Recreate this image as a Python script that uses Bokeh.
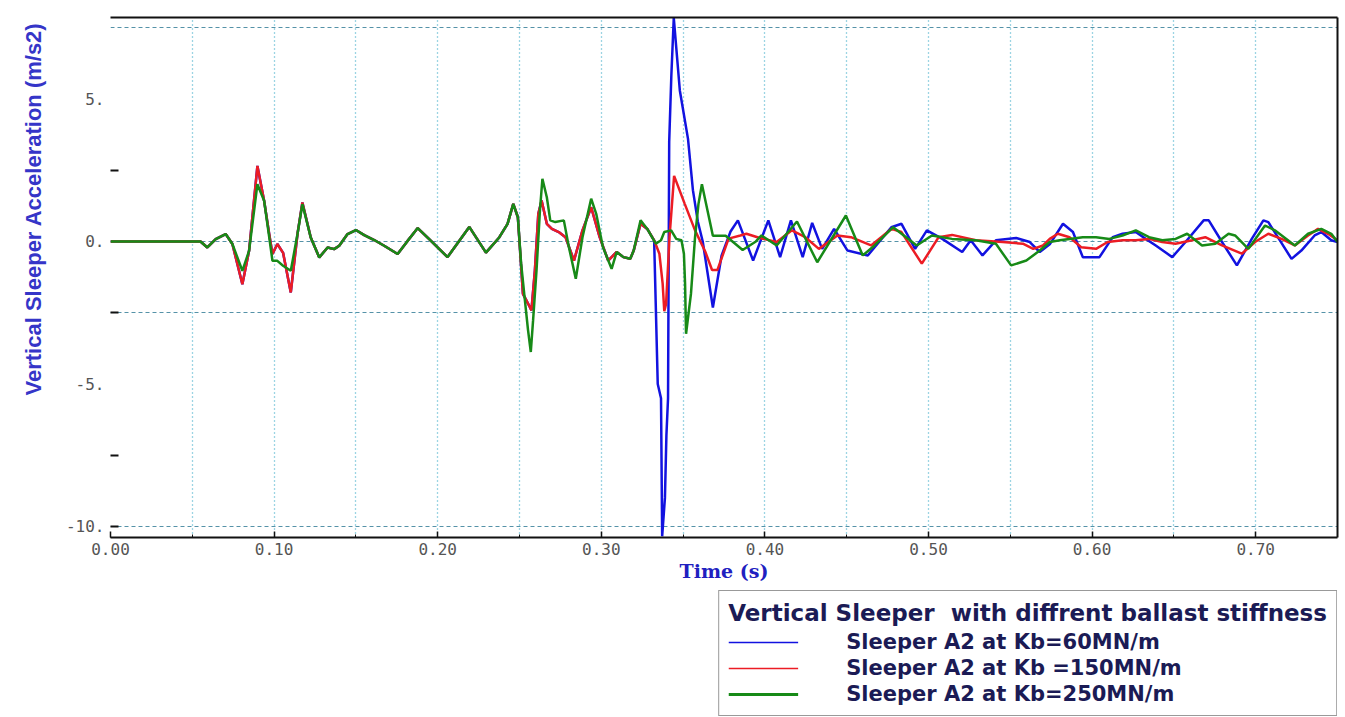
import glob
import os
from bokeh.plotting import figure
from bokeh.layouts import column
from bokeh.models import (Range1d, LinearAxis, FixedTicker, SingleIntervalTicker, Legend,
                          LegendItem, Title, NumeralTickFormatter, PrintfTickFormatter)
from bokeh.embed import file_html
from bokeh.resources import INLINE

# ---------------- data ----------------
t_red = [0.0, 0.055, 0.0592, 0.0643, 0.0704, 0.0745, 0.0806, 0.0847, 0.0898, 0.0939,
         0.0969, 0.099, 0.102, 0.1055, 0.1102, 0.1143, 0.1173, 0.1224, 0.1276, 0.1327,
         0.1367, 0.1398, 0.1449, 0.150, 0.1551, 0.1612, 0.1673, 0.1755, 0.1816, 0.1878,
         0.1959, 0.206, 0.2193, 0.2295, 0.2376, 0.2427, 0.2462, 0.249, 0.2521, 0.2542,
         0.2563, 0.2573, 0.2594, 0.2615, 0.2635, 0.2667, 0.2698, 0.274, 0.2781, 0.2833,
         0.2885, 0.2938, 0.299, 0.3042, 0.3094, 0.3135, 0.3177, 0.3198, 0.324, 0.3281,
         0.3323, 0.3355, 0.3375, 0.3385, 0.3396, 0.3417, 0.3445, 0.351, 0.3573, 0.3635,
         0.3677, 0.371, 0.3778, 0.385, 0.3887, 0.3969, 0.4072, 0.4165, 0.4247, 0.433,
         0.4443, 0.4526, 0.4649, 0.4773, 0.4835, 0.4959, 0.5062, 0.5144, 0.5289, 0.5454,
         0.5577, 0.564, 0.57, 0.5741, 0.5791, 0.5862, 0.5933, 0.6024, 0.6095, 0.6186,
         0.6267, 0.6348, 0.6429, 0.651, 0.6611, 0.6692, 0.6794, 0.6915, 0.6996, 0.7077,
         0.7158, 0.7239, 0.732, 0.7381, 0.7441, 0.75]
v_red = [0.0, 0.0, -0.21, 0.08, 0.26, -0.09, -1.50, -0.33, 2.65, 1.43,
         0.30, -0.44, -0.09, -0.40, -1.79, 0.26, 1.37, 0.14, -0.56, -0.21,
         -0.27, -0.15, 0.26, 0.40, 0.22, 0.05, -0.15, -0.44, 0.02, 0.47,
         0.02, -0.55, 0.51, -0.39, 0.14, 0.62, 1.32, 0.85, -1.84, -2.07,
         -2.30, -2.42, -1.02, 0.97, 1.44, 0.62, 0.44, 0.33, 0.15, -0.67,
         0.39, 1.20, 0.15, -0.67, -0.37, -0.55, -0.61, -0.32, 0.62, 0.44,
         0.04, -0.43, -1.48, -2.45, -2.19, 0.15, 2.30, 1.32, 0.39, -0.35,
         -1.00, -1.00, 0.10, 0.21, 0.27, 0.12, -0.02, 0.39, 0.15, -0.26,
         0.21, 0.15, -0.14, 0.44, 0.33, -0.78, 0.15, 0.23, 0.04, -0.02,
         -0.08, -0.26, -0.14, 0.09, 0.27, 0.15, -0.20, -0.26, -0.02, 0.04,
         0.04, 0.09, -0.02, -0.08, 0.04, 0.15, -0.14, -0.43, -0.02, 0.27,
         0.09, -0.14, 0.21, 0.44, 0.27, 0.04]

t_blue = [0.0, 0.055, 0.0592, 0.0643, 0.0704, 0.0745, 0.0806, 0.0847, 0.0898, 0.0939,
          0.0969, 0.099, 0.102, 0.1055, 0.1102, 0.1143, 0.1173, 0.1224, 0.1276, 0.1327,
          0.1367, 0.1398, 0.1449, 0.150, 0.1551, 0.1612, 0.1673, 0.1755, 0.1816, 0.1878,
          0.1959, 0.206, 0.2193, 0.2295, 0.2376, 0.2427, 0.2462, 0.249, 0.2521, 0.2542,
          0.2563, 0.2573, 0.2594, 0.2615, 0.2635, 0.2667, 0.2698, 0.274, 0.2781, 0.2833,
          0.2885, 0.2938, 0.299, 0.3042, 0.3094, 0.3135, 0.3177, 0.3198, 0.324, 0.3281,
          0.3323, 0.3345, 0.3365, 0.3372, 0.3389, 0.3398, 0.3408, 0.3415, 0.3428, 0.3443,
          0.348, 0.353, 0.356, 0.359, 0.362, 0.3682, 0.3735, 0.379, 0.3835, 0.3928,
          0.4021, 0.4093, 0.4159, 0.4231, 0.4289, 0.435, 0.4423, 0.4505, 0.4629, 0.4773,
          0.4835, 0.4918, 0.499, 0.5082, 0.5206, 0.5258, 0.533, 0.5412, 0.5536, 0.5619,
          0.568, 0.5741, 0.5822, 0.5883, 0.5943, 0.6045, 0.6126, 0.6186, 0.6267, 0.6328,
          0.6389, 0.649, 0.6571, 0.6682, 0.6713, 0.6794, 0.6885, 0.6976, 0.7047, 0.7077,
          0.7219, 0.7279, 0.736, 0.7401, 0.7462, 0.75]
v_blue = [0.0, 0.0, -0.21, 0.08, 0.26, -0.09, -1.50, -0.33, 2.65, 1.43,
          0.30, -0.44, -0.09, -0.40, -1.79, 0.26, 1.37, 0.14, -0.56, -0.21,
          -0.27, -0.15, 0.26, 0.40, 0.22, 0.05, -0.15, -0.44, 0.02, 0.47,
          0.02, -0.55, 0.51, -0.39, 0.14, 0.62, 1.32, 0.85, -1.84, -2.07,
          -2.30, -2.42, -1.02, 0.97, 1.44, 0.62, 0.44, 0.33, 0.15, -0.67,
          0.39, 1.20, 0.15, -0.67, -0.37, -0.55, -0.61, -0.32, 0.62, 0.44,
          0.04, -5.0, -5.5, -10.35, -9.0, -6.8, -5.5, 3.5, 5.8, 7.85,
          5.3, 3.6, 1.8, 0.7, 0.0, -2.32, -0.5, 0.35, 0.74, -0.67,
          0.74, -0.55, 0.74, -0.55, 0.65, -0.26, 0.44, -0.32, -0.49, 0.50,
          0.62, -0.26, 0.39, 0.10, -0.37, 0.04, -0.49, 0.04, 0.12, -0.02,
          -0.37, -0.10, 0.62, 0.33, -0.55, -0.55, 0.15, 0.27, 0.33, 0.09,
          -0.14, -0.55, -0.02, 0.74, 0.74, -0.02, -0.84, 0.09, 0.74, 0.68,
          -0.61, -0.32, 0.21, 0.33, 0.04, -0.02]

t_green = [0.0, 0.055, 0.0592, 0.0643, 0.0704, 0.0745, 0.0806, 0.0847, 0.0898, 0.0939,
           0.0969, 0.099, 0.102, 0.1055, 0.1102, 0.1143, 0.1173, 0.1224, 0.1276, 0.1327,
           0.1367, 0.1398, 0.1449, 0.150, 0.1551, 0.1612, 0.1673, 0.1755, 0.1816, 0.1878,
           0.1959, 0.206, 0.2193, 0.2295, 0.2376, 0.2427, 0.2462, 0.249, 0.251, 0.2531,
           0.2552, 0.2569, 0.2583, 0.2604, 0.2625, 0.264, 0.2667, 0.2688, 0.2719, 0.2771,
           0.2802, 0.2844, 0.2885, 0.2938, 0.2969, 0.301, 0.3063, 0.3094, 0.3135, 0.3177,
           0.3198, 0.324, 0.3281, 0.3333, 0.3365, 0.3385, 0.3427, 0.3458, 0.349, 0.3505,
           0.3512, 0.3518, 0.3548, 0.3573, 0.3594, 0.3615, 0.3682, 0.3760, 0.3864, 0.3945,
           0.3979, 0.4072, 0.4196, 0.432, 0.4495, 0.4598, 0.467, 0.4784, 0.4928, 0.5021,
           0.5144, 0.5289, 0.5412, 0.5505, 0.5598, 0.568, 0.5741, 0.5802, 0.5862, 0.5943,
           0.6024, 0.6105, 0.6186, 0.6267, 0.6348, 0.6429, 0.651, 0.6581, 0.6672, 0.6753,
           0.6834, 0.6874, 0.6955, 0.7057, 0.7117, 0.7239, 0.732, 0.7401, 0.7462, 0.75]
v_green = [0.0, 0.0, -0.21, 0.08, 0.26, -0.09, -1.03, -0.33, 2.01, 1.43,
           0.20, -0.68, -0.68, -0.85, -1.03, 0.26, 1.31, 0.14, -0.56, -0.21,
           -0.27, -0.15, 0.26, 0.40, 0.22, 0.05, -0.15, -0.44, 0.02, 0.47,
           0.02, -0.55, 0.51, -0.39, 0.14, 0.62, 1.32, 0.85, -0.78, -1.95,
           -3.10, -3.88, -2.77, -1.02, 1.09, 2.20, 1.55, 0.74, 0.68, 0.74,
           -0.20, -1.31, 0.15, 1.50, 0.97, -0.20, -0.96, -0.37, -0.55, -0.61,
           -0.32, 0.74, 0.44, -0.08, 0.04, 0.33, 0.39, 0.09, 0.04, -0.43,
           -1.48, -3.24, -1.84, 0.15, 1.32, 2.01, 0.20, 0.20, -0.30, 0.00,
           0.21, -0.14, 0.70, -0.73, 0.91, -0.49, -0.14, 0.50, -0.14, 0.21,
           0.09, 0.04, -0.08, -0.84, -0.67, -0.32, -0.02, 0.04, 0.09, 0.15,
           0.15, 0.09, 0.21, 0.39, 0.15, 0.04, 0.09, 0.27, -0.14, -0.08,
           0.27, 0.21, -0.26, 0.56, 0.39, -0.14, 0.27, 0.44, 0.27, -0.02]

series_t = [t_blue, t_red, t_green]
series_v = [v_blue, v_red, v_green]
series_labels = ["Sleeper A2 at Kb=60MN/m", "Sleeper A2 at Kb =150MN/m", "Sleeper A2 at Kb=250MN/m"]
series_colors = ["#1212e0", "#ec1c24", "#178a17"]
legend_title = "Vertical Sleeper  with diffrent ballast stiffness"
x_title = "Time (s)"
y_title = "Vertical Sleeper Acceleration (m/s2)"
y_label_ticks = [-10, -5, 0, 5]
y_small_ticks = [-10, -7.5, -2.5, 2.5]
y_grid_values = [-10, -2.5, 0, 7.5]

# pick a condensed bold face for the y title if one is installed
font_files = []
for root in ("/usr/share/fonts", "/usr/local/share/fonts", os.path.expanduser("~/.fonts")):
    font_files += glob.glob(os.path.join(root, "**", "*"), recursive=True)
has_narrow = any("liberationsansnarrow" in os.path.basename(f).lower().replace(" ", "").replace("-", "")
                 for f in font_files)
if has_narrow:
    y_title_font, y_title_size = "Liberation Sans Narrow", "26px"
else:
    y_title_font, y_title_size = "Liberation Sans", "22px"

# ---------------- main figure ----------------
p_main = figure(width=1345, height=590, output_backend="svg", toolbar_location=None,
                x_range=Range1d(0, 0.75), y_range=Range1d(-10.39, 7.86),
                min_border_left=110, min_border_right=8, min_border_top=17, min_border_bottom=53)
p_main.outline_line_color = None
p_main.background_fill_color = "white"
p_main.border_fill_color = "white"

# grid
p_main.xgrid.ticker = SingleIntervalTicker(interval=0.05)
p_main.xgrid.grid_line_color = "#3aa9c8"
p_main.xgrid.grid_line_dash = "1 3"
p_main.xgrid.grid_line_width = 1.3
p_main.ygrid.ticker = FixedTicker(ticks=y_grid_values)
p_main.ygrid.grid_line_color = "#5592a8"
p_main.ygrid.grid_line_dash = "4 3"
p_main.ygrid.grid_line_width = 1.2

# bottom axis
xa = p_main.xaxis[0]
xa.ticker = SingleIntervalTicker(interval=0.1, num_minor_ticks=2)
xa.formatter = NumeralTickFormatter(format="0.00")
xa.axis_line_color = "#111111"
xa.axis_line_width = 2
xa.major_tick_in = 6
xa.major_tick_out = 0
xa.major_tick_line_color = "#111111"
xa.major_tick_line_width = 1.5
xa.minor_tick_in = 3
xa.minor_tick_out = 0
xa.minor_tick_line_color = "#111111"
xa.major_label_text_font = "DejaVu Sans Mono"
xa.major_label_text_font_size = "16px"
xa.major_label_text_color = "#555555"
xa.major_label_standoff = 5
xa.axis_label = x_title
xa.axis_label_text_font = "DejaVu Serif"
xa.axis_label_text_font_style = "bold"
xa.axis_label_text_font_size = "19px"
xa.axis_label_text_color = "#2020c0"
xa.axis_label_standoff = 2

# left axis
ya = p_main.yaxis[0]
ya.ticker = FixedTicker(ticks=y_label_ticks, minor_ticks=y_small_ticks)
ya.formatter = PrintfTickFormatter(format="%d.")
ya.axis_line_color = None
ya.major_tick_in = 0
ya.major_tick_out = 0
ya.minor_tick_in = 8
ya.minor_tick_out = 0
ya.minor_tick_line_color = "#111111"
ya.minor_tick_line_width = 2
ya.major_label_text_font = "DejaVu Sans Mono"
ya.major_label_text_font_size = "16px"
ya.major_label_text_color = "#555555"
ya.major_label_standoff = 6

# top and right frame lines (axes without ticks or labels)
top_ax = LinearAxis(ticker=FixedTicker(ticks=[]), axis_line_color="#111111",
                    axis_line_width=2, major_tick_in=0, major_tick_out=0,
                    minor_tick_in=0, minor_tick_out=0, major_label_standoff=0)
p_main.add_layout(top_ax, "above")
right_ax = LinearAxis(ticker=FixedTicker(ticks=[]), axis_line_color="#111111",
                      axis_line_width=2, major_tick_in=0, major_tick_out=0,
                      minor_tick_in=0, minor_tick_out=0, major_label_standoff=0)
p_main.add_layout(right_ax, "right")

# y title on the left, aligned toward the top
yt = Title(text=y_title, align="right", text_font=y_title_font, text_font_size=y_title_size,
           text_font_style="bold", text_color="#3535c8", offset=5)
if "standoff" in Title.properties():
    yt.standoff = 33
p_main.add_layout(yt, "left")

# series
main_renderers = [p_main.line(t, v, line_color=c, line_width=2.5)
                  for t, v, c in zip(series_t, series_v, series_colors)]

# ---------------- legend strip below the chart ----------------
# same series drawn again on a strip whose y window lies far above the data,
# so only their legend swatches are visible
p_leg = figure(width=1345, height=127, output_backend="svg", toolbar_location=None,
               x_range=Range1d(0, 0.75), y_range=Range1d(1000, 1001),
               x_axis_location=None, y_axis_location=None,
               min_border_left=0, min_border_right=5, min_border_top=0, min_border_bottom=0)
p_leg.grid.visible = False
p_leg.outline_line_color = None
p_leg.background_fill_color = "white"
p_leg.border_fill_color = "white"
leg_widths = [1.6, 1.6, 3.0]
leg_renderers = [p_leg.line(t, v, line_color=c, line_width=w)
                 for t, v, c, w in zip(series_t, series_v, series_colors, leg_widths)]

legend = Legend(items=[LegendItem(label=lab, renderers=[r])
                       for lab, r in zip(series_labels, leg_renderers)],
                location="top_right", title=legend_title)
legend.title_text_font = "DejaVu Sans"
legend.title_text_font_style = "bold"
legend.title_text_font_size = "23px"
legend.title_text_color = "#1b1b55"
legend.title_standoff = 4
legend.label_text_font = "DejaVu Sans"
legend.label_text_font_style = "bold"
legend.label_text_font_size = "21px"
legend.label_text_color = "#1b1b55"
legend.glyph_width = 70
legend.glyph_height = 20
legend.label_standoff = 48
legend.label_height = 24
legend.spacing = 2
legend.padding = 9
legend.margin = 0
legend.border_line_color = "#333333"
legend.border_line_width = 1.6
legend.background_fill_color = "white"
legend.background_fill_alpha = 1.0
p_leg.add_layout(legend, "center")

p = column(p_main, p_leg)
open("out.html", "w").write(file_html(p, INLINE, title="Vertical Sleeper Acceleration"))
